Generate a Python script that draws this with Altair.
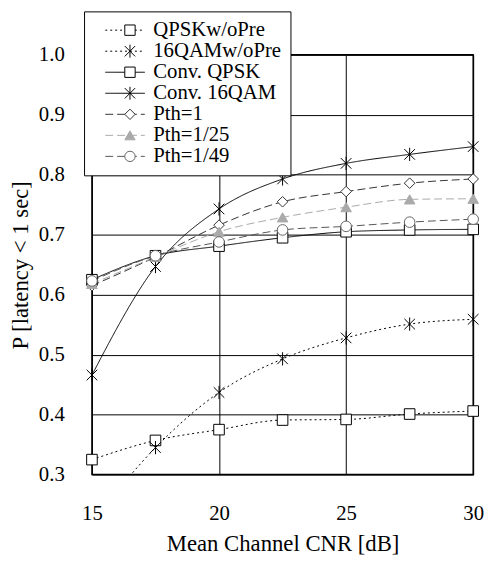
import altair as alt
import pandas as pd

x_vals = [15, 17.5, 20, 22.5, 25, 27.5, 30]
series_names = ["QPSKw/oPre", "16QAMw/oPre", "Conv. QPSK", "Conv. 16QAM",
                "Pth=1", "Pth=1/25", "Pth=1/49"]
qpsk_wo = [0.325, 0.357, 0.375, 0.391, 0.392, 0.401, 0.406]
qam16_wo = [0.22, 0.345, 0.437, 0.493, 0.528, 0.551, 0.559]
conv_qpsk = [0.625, 0.665, 0.681, 0.695, 0.705, 0.708, 0.709]
conv_16qam = [0.466, 0.647, 0.743, 0.793, 0.819, 0.834, 0.847]
pth1 = [0.615, 0.663, 0.716, 0.755, 0.772, 0.786, 0.793]
pth25 = [0.618, 0.663, 0.705, 0.729, 0.746, 0.759, 0.760]
pth49 = [0.623, 0.665, 0.688, 0.708, 0.714, 0.721, 0.726]
all_series = [qpsk_wo, qam16_wo, conv_qpsk, conv_16qam, pth1, pth25, pth49]

x_ticks = [15, 20, 25, 30]
y_ticks = [0.3, 0.4, 0.5, 0.6, 0.7, 0.8, 0.9, 1.0]

# marker legend uses its own keys so Vega-Lite keeps it apart from the line legend
marker_keys = ["m_" + n for n in series_names]

rows = []
for name, key, vals in zip(series_names, marker_keys, all_series):
    for xv, yv in zip(x_vals, vals):
        rows.append({"x": xv, "y": yv, "series": name, "marker": key})
df = pd.DataFrame(rows)

line_colors = ["black", "black", "black", "black", "#333333", "#aaaaaa", "#555555"]
dashes = [[2, 3], [2, 3], [1, 0], [1, 0], [8, 4], [8, 4], [8, 4]]
asterisk = "M-1,-1L1,1M-1,1L1,-1M0,-1.25L0,1.25"
shapes = ["square", asterisk, "square", asterisk, "diamond", "triangle-up", "circle"]
fills = ["white", "transparent", "white", "transparent", "white", "#aaaaaa", "white"]
strokes = ["black", "black", "black", "black", "#333333", "#aaaaaa", "#666666"]

FONT = "Liberation Serif"

x_enc = alt.X("x:Q", scale=alt.Scale(domain=[15, 30], nice=False, zero=False),
              axis=alt.Axis(values=x_ticks, labelPadding=28, titlePadding=10, labelFlush=False),
              title="Mean Channel CNR [dB]")
y_enc = alt.Y("y:Q", scale=alt.Scale(domain=[0.3, 1.0], nice=False, zero=False),
              axis=alt.Axis(values=y_ticks, format=".1f", labelPadding=28, titlePadding=6,
                            labelFlush=False),
              title="P [latency < 1 sec]")

line_legend = alt.Legend(orient="none", legendX=-8, legendY=-44, symbolType="stroke",
                         symbolSize=1600, symbolStrokeWidth=1, labelFont=FONT,
                         labelFontSize=21, labelColor="black", padding=9,
                         strokeColor="black", fillColor="white", symbolOffset=12,
                         labelOffset=8, clipHeight=20, rowPadding=0.3, zindex=1)
point_legend = alt.Legend(orient="none", legendX=-8, legendY=-44, symbolSize=110,
                          symbolStrokeWidth=1, labelFont=FONT, labelFontSize=21,
                          labelExpr="''", padding=9, symbolOffset=27, labelOffset=8,
                          clipHeight=20, rowPadding=0.3, zindex=2)

lines = alt.Chart(df).mark_line(clip=True, interpolate="monotone", strokeWidth=1).encode(
    x=x_enc, y=y_enc,
    color=alt.Color("series:N", scale=alt.Scale(domain=series_names, range=line_colors),
                    legend=line_legend, title=None),
    strokeDash=alt.StrokeDash("series:N", scale=alt.Scale(domain=series_names, range=dashes),
                              legend=line_legend, title=None),
)

points = alt.Chart(df).transform_filter("datum.y >= 0.3").mark_point(
    filled=True, strokeWidth=1, opacity=1, size=115).encode(
    x=x_enc, y=y_enc,
    shape=alt.Shape("marker:N", scale=alt.Scale(domain=marker_keys, range=shapes),
                    legend=point_legend, title=None),
    fill=alt.Fill("marker:N", scale=alt.Scale(domain=marker_keys, range=fills),
                  legend=point_legend, title=None),
    stroke=alt.Stroke("marker:N", scale=alt.Scale(domain=marker_keys, range=strokes),
                      legend=point_legend, title=None),
)

chart = alt.layer(lines, points).properties(
    width=386, height=425,
    autosize=alt.AutoSizeParams(type="none"),
    padding={"left": 85, "top": 44, "right": 15, "bottom": 81},
).configure_view(stroke="black", strokeWidth=1.5).configure_axis(
    grid=True, gridColor="black", gridOpacity=1, gridWidth=1, domain=False, ticks=False,
    labelFont=FONT, labelFontSize=21, labelColor="black",
    titleFont=FONT, titleFontSize=23, titleFontWeight="normal", titleColor="black",
)

chart.save("out.html", embed_options={"renderer": "svg", "actions": False})
